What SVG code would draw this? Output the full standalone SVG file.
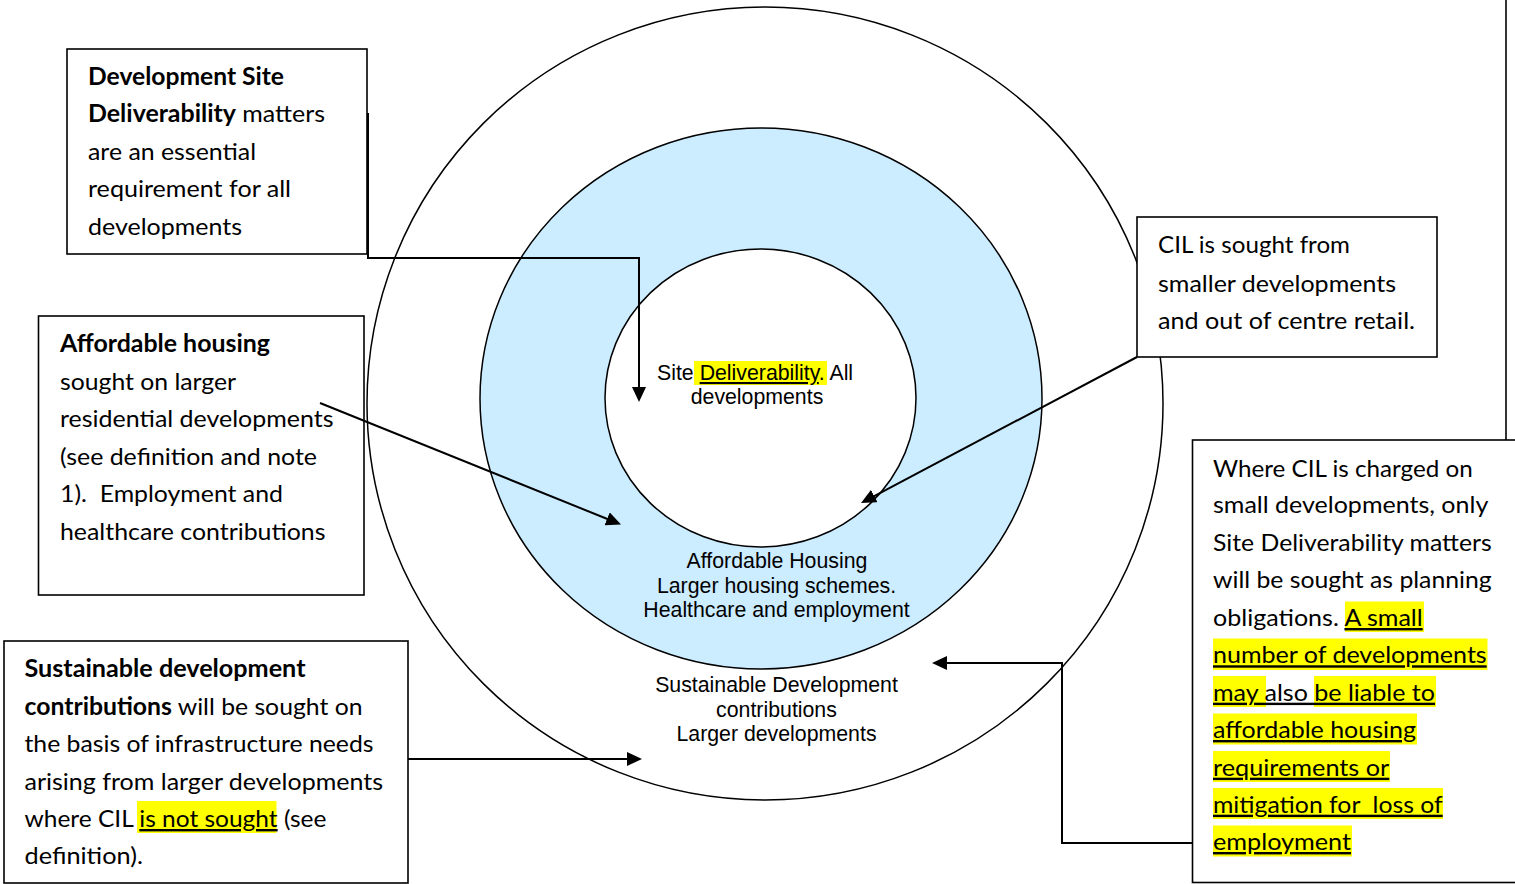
<svg xmlns="http://www.w3.org/2000/svg" width="1515" height="884" viewBox="0 0 1515 884">
<style>
.box{fill:#fff;stroke:#000;stroke-width:1.6}
.bt{font-family:Lato,'Open Sans',sans-serif;font-size:24px;fill:#000}
.b{font-weight:700}
.u{text-decoration:underline}
.hl{fill:#FFFF00}
.ct{font-family:'Liberation Sans',Arial,sans-serif;font-size:21.3px;fill:#000}
.conn{fill:none;stroke:#000;stroke-width:2}
.ring{stroke:#000;stroke-width:1.5}
</style>
<defs>
<marker id="ah" markerUnits="userSpaceOnUse" markerWidth="16" markerHeight="14" refX="7" refY="7" orient="auto">
<path d="M0,0 L15,7 L0,14 z" fill="#000"/>
</marker>
</defs>
<rect width="1515" height="884" fill="#fff"/>

<g id="ring-outer">
<ellipse class="ring" cx="765" cy="403.5" rx="398" ry="396.5" fill="#fff"/>
<text class="ct" text-anchor="middle"><tspan x="776.5" y="692">Sustainable Development</tspan><tspan x="776.5" y="716.5">contributions</tspan><tspan x="776.5" y="741">Larger developments</tspan></text>
</g>
<g id="ring-middle">
<ellipse class="ring" cx="761" cy="398.5" rx="281" ry="270.5" fill="#CCECFF"/>
<text class="ct" text-anchor="middle"><tspan x="777" y="568">Affordable Housing</tspan><tspan x="776.5" y="592.5">Larger housing schemes.</tspan><tspan x="776.5" y="617">Healthcare and employment</tspan></text>
</g>
<g id="ring-inner">
<ellipse class="ring" cx="760.5" cy="398" rx="155.5" ry="149" fill="#fff"/>
<rect class="hl" x="694" y="361" width="133" height="24"/>
<text class="ct" x="657" y="380">Site <tspan class="u">Deliverability</tspan>. All</text>
<text class="ct" x="757" y="404" text-anchor="middle">developments</text>
</g>

<g id="box-site-deliverability">
<rect class="box" x="67" y="49" width="300" height="205"/>
<text class="bt" x="88" y="84.5" textLength="196" lengthAdjust="spacingAndGlyphs"><tspan class="b">Development Site</tspan></text>
<text class="bt" x="88" y="122" textLength="237" lengthAdjust="spacingAndGlyphs"><tspan class="b">Deliverability</tspan> matters</text>
<text class="bt" x="88" y="159.5" textLength="168" lengthAdjust="spacingAndGlyphs">are an essential</text>
<text class="bt" x="88" y="197" textLength="203" lengthAdjust="spacingAndGlyphs">requirement for all</text>
<text class="bt" x="88" y="234.5" textLength="154" lengthAdjust="spacingAndGlyphs">developments</text>
</g>

<g id="box-affordable-housing">
<rect class="box" x="38.5" y="316" width="325.5" height="279"/>
<text class="bt" x="60" y="352" textLength="210" lengthAdjust="spacingAndGlyphs"><tspan class="b">Affordable housing</tspan></text>
<text class="bt" x="60" y="389.5" textLength="176" lengthAdjust="spacingAndGlyphs">sought on larger</text>
<text class="bt" x="60" y="427" textLength="273.5" lengthAdjust="spacingAndGlyphs">residential developments</text>
<text class="bt" x="60" y="464.5" textLength="257" lengthAdjust="spacingAndGlyphs">(see definition and note</text>
<text class="bt" x="60" y="502" textLength="223" lengthAdjust="spacingAndGlyphs" xml:space="preserve">1).  Employment and</text>
<text class="bt" x="60" y="539.5" textLength="265.5" lengthAdjust="spacingAndGlyphs">healthcare contributions</text>
</g>

<g id="box-sustainable-development">
<rect class="box" x="4" y="641" width="404" height="242"/>
<rect class="hl" x="137" y="801" width="139.5" height="32"/>
<text class="bt" x="24.5" y="677" textLength="281" lengthAdjust="spacingAndGlyphs"><tspan class="b">Sustainable development</tspan></text>
<text class="bt" x="24.5" y="714.5" textLength="338" lengthAdjust="spacingAndGlyphs"><tspan class="b">contributions</tspan> will be sought on</text>
<text class="bt" x="24.5" y="752" textLength="349" lengthAdjust="spacingAndGlyphs">the basis of infrastructure needs</text>
<text class="bt" x="24.5" y="789.5" textLength="358.5" lengthAdjust="spacingAndGlyphs">arising from larger developments</text>
<text class="bt" x="24.5" y="827" textLength="302" lengthAdjust="spacingAndGlyphs">where CIL <tspan class="u">is not sought</tspan> (see</text>
<text class="bt" x="24.5" y="864" textLength="118.5" lengthAdjust="spacingAndGlyphs">definition).</text>
</g>

<g id="box-cil-smaller">
<rect class="box" x="1137" y="217" width="300" height="140"/>
<text class="bt" x="1158" y="253" textLength="192" lengthAdjust="spacingAndGlyphs">CIL is sought from</text>
<text class="bt" x="1158" y="291.5" textLength="238" lengthAdjust="spacingAndGlyphs">smaller developments</text>
<text class="bt" x="1158" y="329" textLength="257" lengthAdjust="spacingAndGlyphs">and out of centre retail.</text>
</g>

<g id="box-cil-charged">
<rect class="box" x="1192.5" y="440" width="340" height="442.5"/>
<rect class="hl" x="1345" y="601.5" width="79" height="30.5"/>
<rect class="hl" x="1213" y="638.5" width="274.5" height="31.5"/>
<rect class="hl" x="1213" y="676" width="53" height="31"/>
<rect class="hl" x="1314" y="676" width="122" height="31"/>
<rect class="hl" x="1213" y="713.5" width="204" height="31"/>
<rect class="hl" x="1213" y="751" width="177" height="31"/>
<rect class="hl" x="1213" y="788" width="230" height="31"/>
<rect class="hl" x="1213" y="825.5" width="139" height="31"/>
<text class="bt" x="1213" y="476.7" textLength="259.7" lengthAdjust="spacingAndGlyphs">Where CIL is charged on</text>
<text class="bt" x="1213" y="513.3" textLength="275.3" lengthAdjust="spacingAndGlyphs">small developments, only</text>
<text class="bt" x="1213" y="550.7" textLength="278.7" lengthAdjust="spacingAndGlyphs">Site Deliverability matters</text>
<text class="bt" x="1213" y="588.3" textLength="278.7" lengthAdjust="spacingAndGlyphs">will be sought as planning</text>
<text class="bt" x="1213" y="626" textLength="209.7" lengthAdjust="spacingAndGlyphs">obligations. <tspan class="u">A small</tspan></text>
<text class="bt u" x="1213" y="663.3" textLength="273.7" lengthAdjust="spacingAndGlyphs">number of developments</text>
<text class="bt u" x="1213" y="700.7" textLength="222" lengthAdjust="spacingAndGlyphs">may also be liable to</text>
<text class="bt u" x="1213" y="738" textLength="203" lengthAdjust="spacingAndGlyphs">affordable housing</text>
<text class="bt u" x="1213" y="775.7" textLength="176.3" lengthAdjust="spacingAndGlyphs">requirements or</text>
<text class="bt u" x="1213" y="812.7" textLength="229.7" lengthAdjust="spacingAndGlyphs" xml:space="preserve">mitigation for  loss of</text>
<text class="bt u" x="1213" y="850" textLength="138" lengthAdjust="spacingAndGlyphs">employment</text>
</g>

<g id="edge-fragment">
<line x1="1506" y1="0" x2="1506" y2="440" stroke="#000" stroke-width="1.6"/>
</g>

<g id="connectors">
<path class="conn" d="M368,113 V258 H639 V394" marker-end="url(#ah)"/>
<path class="conn" d="M320,403 L613.6,521.5" marker-end="url(#ah)"/>
<path class="conn" d="M408,759 H634" marker-end="url(#ah)"/>
<path class="conn" d="M1137,357 L868.1,499.3" marker-end="url(#ah)"/>
<path class="conn" d="M1192,843 H1062 V663 H940" marker-end="url(#ah)"/>
</g>
</svg>
